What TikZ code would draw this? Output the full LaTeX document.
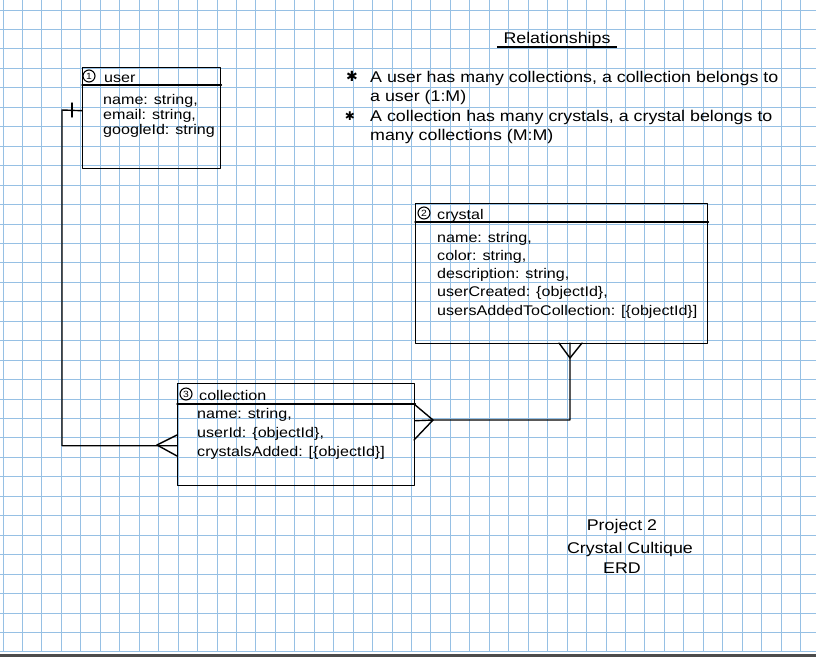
\documentclass[tikz,border=0pt]{standalone}
\usepackage{fontspec}
\setmainfont[FakeStretch=1.15]{Liberation Sans}
\newfontfamily\symfont{DejaVu Sans}
\begin{document}
\begin{tikzpicture}[x=1pt,y=-1pt,
  gridline/.style={draw={rgb,255:red,150;green,192;blue,228},line width=0.9pt},
  ink/.style={draw=black,line width=1.4pt,line cap=round,line join=round},
  box/.style={ink,rectangle,inner sep=0pt,anchor=north west},
  txt/.style={inner sep=0pt,anchor=base west,font=\fontsize{14}{16}\selectfont},
  rtxt/.style={inner sep=0pt,anchor=base west,font=\fontsize{15.5}{17}\selectfont},
  num/.style={ink,circle,inner sep=0pt,minimum size=12pt,font=\fontsize{9}{9}\selectfont,line width=1.1pt}]
\useasboundingbox (0,0) rectangle (816,657);
\fill[white] (0,0) rectangle (816,657);
% grid paper
\foreach \i in {0,...,41} \draw[gridline] (3+\i*19.45,0) -- (3+\i*19.45,652);
\foreach \j in {0,...,33} \draw[gridline] (0,10+\j*19.45) -- (816,10+\j*19.45);
\fill[black!70] (0,654) rectangle (816,657);
% ---------- user ----------
\node[box,minimum width=138pt,minimum height=101pt] (user) at (82,67) {};
\draw[ink] ([yshift=-18pt]user.north west) -- ([yshift=-18pt]user.north east);
\node[num] (n1) at (89,76) {1};
\node[txt] (utitle) at (104,82) {user};
\node[txt] (u1) at (103,104) {name: string,};
\node[txt] (u2) at (103,119) {email: string,};
\node[txt] (u3) at (103,134) {googleId: string};
% ---------- crystal ----------
\node[box,minimum width=292pt,minimum height=140pt] (crystal) at (415,203) {};
\draw[ink] ([yshift=-19pt]crystal.north west) -- ([yshift=-19pt]crystal.north east);
\node[num] (n2) at (424,213) {2};
\node[txt] (ctitle) at (437,219) {crystal};
\node[txt] (c1) at (437,242) {name: string,};
\node[txt] (c2) at (437,260) {color: string,};
\node[txt] (c3) at (437,278) {description: string,};
\node[txt] (c4) at (437,296) {userCreated: \{objectId\},};
\node[txt] (c5) at (437,315) {usersAddedToCollection: [\{objectId\}]};
% ---------- collection ----------
\node[box,minimum width=237pt,minimum height=102pt] (coll) at (177,383) {};
\draw[ink] ([yshift=-21pt]coll.north west) -- ([yshift=-21pt]coll.north east);
\node[num] (n3) at (186,394) {3};
\node[txt] (ltitle) at (199,400) {collection};
\node[txt] (l1) at (197,418) {name: string,};
\node[txt] (l2) at (197,437) {userId: \{objectId\},};
\node[txt] (l3) at (197,456) {crystalsAdded: [\{objectId\}]};
% ---------- connectors ----------
% user (1) -- collection (many)
\coordinate (ucorner) at (62,110);
\draw[ink] ([yshift=7.5pt]user.west) -- (ucorner) |- ([yshift=-11pt]coll.west);
\draw[ink] (72,103) -- (72,117);
\coordinate (cf1) at (157,445);
\draw[ink] (cf1) -- (177,435);
\draw[ink] (cf1) -- (177,456);
% collection (many) -- crystal (many)
\coordinate (cf2) at (433,420);
\coordinate (cf3) at (570,358);
\draw[ink] ([yshift=14pt]coll.east) -- (cf2) -| (cf3) -- (570,343);
\draw[ink] (cf2) -- (414,404);
\draw[ink] (cf2) -- (414,440);
\draw[ink] (cf3) -- (559,343);
\draw[ink] (cf3) -- (582,343);
% ---------- relationships ----------
\node[rtxt,anchor=base] (rtitle) at (557,43) {Relationships};
\draw[line width=1.1pt] (497,47) -- (617,47);
\node[inner sep=0pt,font=\symfont\fontsize{14}{14}\selectfont] (s1) at (352,76) {✱};
\node[rtxt] (r1) at (370,82) {A user has many collections, a collection belongs to};
\node[rtxt] (r2) at (370,101) {a user (1:M)};
\node[inner sep=0pt,font=\symfont\fontsize{12}{12}\selectfont] (s2) at (350,116) {✱};
\node[rtxt] (r3) at (370,121) {A collection has many crystals, a crystal belongs to};
\node[rtxt] (r4) at (370,140) {many collections (M:M)};
% ---------- footer ----------
\node[rtxt,anchor=base] (p1) at (622,530) {Project 2};
\node[rtxt,anchor=base] (p2) at (630,553) {Crystal Cultique};
\node[rtxt,anchor=base] (p3) at (622,573) {ERD};
\end{tikzpicture}
\end{document}
